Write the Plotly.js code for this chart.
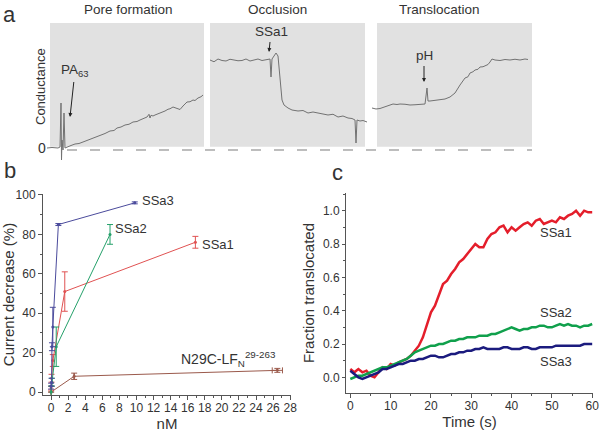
<!DOCTYPE html>
<html><head><meta charset="utf-8">
<script src="https://cdn.plot.ly/plotly-3.0.1.min.js"></script>
<style>html,body{margin:0;padding:0;background:#fff}#plot{width:600px;height:436px}</style>
</head><body><div id="plot"></div>
<script>
// ---------- Panel a: conductance traces (arbitrary time, conductance relative to box height) ----------
const poreT = [7,12,18,20,21,21.5,22,23,24,25,27,31,35,39,43,47,50,55,60,65,70,74,77,81,85,89,93,97,100,104,107,109,110,111,113,115,118,120,123,125,128,130,133,136,140,143,147,150,153,155,158,161,163];
const poreC = [0,0.004,0,0.008,0.36,-0.096,0.064,-0.016,0.28,0,0.008,0.02,0.032,0.036,0.048,0.06,0.072,0.084,0.104,0.116,0.136,0.14,0.16,0.168,0.184,0.19,0.208,0.212,0.224,0.236,0.248,0.27,0.24,0.262,0.256,0.264,0.272,0.28,0.29,0.296,0.31,0.314,0.328,0.322,0.308,0.336,0.368,0.37,0.384,0.38,0.4,0.41,0.424];
const occT = [2,6,10,14,18,22,26,30,34,38,42,46,50,54,58,62,63,64,66,68,70,72,74,76,80,84,90,95,100,105,110,115,120,125,130,135,140,144,147,148,149,152,155,159];
const occC = [0.704,0.69,0.712,0.7,0.696,0.71,0.704,0.698,0.7,0.712,0.696,0.704,0.712,0.7,0.704,0.712,0.568,0.712,0.736,0.76,0.736,0.544,0.384,0.344,0.32,0.304,0.296,0.3,0.28,0.288,0.28,0.272,0.264,0.27,0.248,0.256,0.24,0.236,0.224,0.04,0.224,0.216,0.22,0.208];
const transT = [2,6,10,15,20,23,27,30,35,40,45,50,55,57,58,60,65,70,75,80,85,90,95,98,100,103,105,108,110,113,115,118,120,122,125,130,135,140,145,150,155,158];
const transC = [0.32,0.312,0.316,0.33,0.344,0.352,0.348,0.352,0.35,0.344,0.346,0.348,0.352,0.48,0.376,0.376,0.38,0.384,0.392,0.408,0.44,0.504,0.56,0.57,0.6,0.61,0.624,0.63,0.648,0.65,0.656,0.668,0.688,0.712,0.704,0.7,0.708,0.704,0.71,0.704,0.712,0.708];

// ---------- Panel b: current decrease vs concentration ----------
const ssa3X = [0,0.05,0.1,0.2,0.85,9.8];
const ssa3Y = [3,5,23,33,85,96];
const ssa3E = [1.5,2,2,10,0.5,0.5];
const ssa2X = [0,0.1,0.6,6.9];
const ssa2Y = [0,5,23,80];
const ssa2E = [3,2,10,5];
const ssa1X = [0,0.05,0.2,1.6,16.9];
const ssa1Y = [2,7,16,51,76];
const ssa1E = [1,2,3,10,3];
const lfnX = [0,2.7,26.5];
const lfnY = [0,8,11];
const lfnE = [0,1.6,1];
const lfnXE = [0,0,0.6];

// ---------- Panel c: fraction translocated vs time ----------
const timeS = [];
for (let i = 0; i <= 60; i++) timeS.push(i);
const fracSSa1 = [0.05,0.03,0.05,0.03,0.04,0.01,0.00,0.03,0.06,0.05,0.08,0.07,0.09,0.10,0.11,0.13,0.16,0.19,0.24,0.31,0.39,0.43,0.50,0.56,0.58,0.62,0.65,0.69,0.71,0.74,0.77,0.80,0.78,0.78,0.83,0.86,0.87,0.90,0.91,0.87,0.90,0.88,0.90,0.92,0.93,0.91,0.94,0.95,0.92,0.93,0.94,0.93,0.96,0.95,0.97,0.98,1.00,0.97,1.00,0.99,0.99];
const fracSSa2 = [-0.01,0.00,0.01,0.01,0.02,0.03,0.04,0.05,0.06,0.06,0.07,0.08,0.09,0.10,0.11,0.13,0.15,0.16,0.17,0.18,0.19,0.19,0.20,0.20,0.21,0.22,0.22,0.23,0.23,0.24,0.24,0.24,0.25,0.25,0.25,0.26,0.26,0.27,0.28,0.29,0.30,0.29,0.28,0.29,0.29,0.30,0.30,0.31,0.31,0.30,0.30,0.31,0.32,0.31,0.32,0.31,0.31,0.30,0.31,0.31,0.32];
const fracSSa3 = [0.04,0.02,0.00,-0.01,0.00,0.01,0.02,0.03,0.05,0.05,0.06,0.07,0.08,0.08,0.09,0.10,0.10,0.11,0.11,0.12,0.13,0.13,0.12,0.12,0.13,0.14,0.14,0.15,0.15,0.16,0.16,0.17,0.17,0.18,0.17,0.17,0.17,0.17,0.18,0.18,0.17,0.17,0.17,0.18,0.18,0.17,0.17,0.18,0.18,0.18,0.18,0.19,0.19,0.19,0.19,0.19,0.19,0.19,0.20,0.20,0.20];

const FONT = 'Arial, "Liberation Sans", sans-serif';
const TXT = '#333333';
const W = 600, H = 436;
const px = v => v / W, py = v => 1 - v / H;

const traceGray = {mode:'lines', line:{color:'#727272', width:1}, hoverinfo:'skip', showlegend:false};
const data = [
  Object.assign({x:poreT, y:poreC, xaxis:'x', yaxis:'y'}, traceGray),
  Object.assign({x:occT, y:occC, xaxis:'x2', yaxis:'y2'}, traceGray),
  Object.assign({x:transT, y:transC, xaxis:'x3', yaxis:'y3'}, traceGray),
];
function bSeries(x, y, e, color, xe) {
  const t = {x, y, xaxis:'x4', yaxis:'y4', mode:'lines+markers', showlegend:false,
    line:{color, width:1}, marker:{color, size:3},
    error_y:{type:'data', array:e, color, thickness:1, width:3}};
  if (xe) t.error_x = {type:'data', array:xe, color, thickness:1, width:3};
  return t;
}
data.push(bSeries(lfnX, lfnY, lfnE, '#9b5a4c', lfnXE));
data.push(bSeries(ssa1X, ssa1Y, ssa1E, '#e05252'));
data.push(bSeries(ssa2X, ssa2Y, ssa2E, '#25a06a'));
data.push(bSeries(ssa3X, ssa3Y, ssa3E, '#4b4b9c'));
data.push({x:timeS, y:fracSSa1, xaxis:'x5', yaxis:'y5', mode:'lines', line:{color:'#e41e2b', width:2.5}, showlegend:false});
data.push({x:timeS, y:fracSSa2, xaxis:'x5', yaxis:'y5', mode:'lines', line:{color:'#10a04c', width:2.5}, showlegend:false});
data.push({x:timeS, y:fracSSa3, xaxis:'x5', yaxis:'y5', mode:'lines', line:{color:'#1b1b7e', width:2.5}, showlegend:false});

const aY = [py(165), py(20)];
const aYr = [-0.136, 1.024];
const hidden = {visible:false, fixedrange:true};
const axisStyle = {showline:true, linecolor:'#555', linewidth:1, ticks:'outside', ticklen:4, tickcolor:'#555',
  showgrid:false, zeroline:false, tickfont:{family:FONT, size:12, color:TXT}, mirror:false};
const minorStyle = {ticklen:2, tickcolor:'#555', ticks:'outside'};

function pa(text, x, y, size, extra) {
  return Object.assign({text, x:px(x), y:py(y), xref:'paper', yref:'paper', xanchor:'center', yanchor:'middle',
    showarrow:false, font:{size, color:TXT}}, extra || {});
}
function arrowAnn(text, xref, yref, x, y, ax, ay) {
  return {text, xref, yref, x, y, ax, ay, showarrow:true, arrowhead:2, arrowsize:0.8, arrowwidth:1,
    arrowcolor:'#222', standoff:0, startstandoff:1, font:{size:13.5, color:TXT}};
}
function lbl(text, xref, yref, x, y, size) {
  return {text, xref, yref, x, y, xanchor:'left', yanchor:'middle', showarrow:false, font:{size:size || 13, color:TXT}};
}

const layout = {
  width:W, height:H, margin:{l:0,r:0,t:0,b:0}, paper_bgcolor:'#fff', plot_bgcolor:'rgba(0,0,0,0)',
  font:{family:FONT, color:TXT},
  xaxis: Object.assign({domain:[px(40), px(206)], range:[0,166]}, hidden),
  yaxis: Object.assign({domain:aY, range:aYr}, hidden),
  xaxis2: Object.assign({domain:[px(208), px(368)], range:[0,160], anchor:'y2'}, hidden),
  yaxis2: Object.assign({domain:aY, range:aYr, anchor:'x2'}, hidden),
  xaxis3: Object.assign({domain:[px(370), px(534)], range:[0,164], anchor:'y3'}, hidden),
  yaxis3: Object.assign({domain:aY, range:aYr, anchor:'x3'}, hidden),
  xaxis4: Object.assign({}, axisStyle, {domain:[px(43), px(291)], range:[-0.95, 28.1], anchor:'y4',
    dtick:2, tick0:0, minor:Object.assign({dtick:1}, minorStyle), ticklabelstandoff:-2,
    title:{text:'nM', font:{family:FONT, size:15, color:TXT}, standoff:2}}),
  yaxis4: Object.assign({}, axisStyle, {domain:[py(395), py(194)], range:[-1.5, 100.5], anchor:'x4',
    dtick:20, tick0:0, minor:Object.assign({dtick:10}, minorStyle),
    title:{text:'Current decrease (%)', font:{family:FONT, size:15, color:TXT}, standoff:6}}),
  xaxis5: Object.assign({}, axisStyle, {domain:[px(346), px(593)], range:[-1.07, 60.2], anchor:'y5',
    dtick:10, tick0:0, minor:Object.assign({dtick:5}, minorStyle), ticklabelstandoff:-2,
    title:{text:'Time (s)', font:{family:FONT, size:15, color:TXT}, standoff:2}}),
  yaxis5: Object.assign({}, axisStyle, {domain:[py(393), py(193)], range:[-0.094, 1.106], anchor:'x5',
    dtick:0.2, tick0:0, tickformat:'.1f', ticklen:3, minor:Object.assign({dtick:0.1}, minorStyle),
    title:{text:'Fraction translocated', font:{family:FONT, size:15, color:TXT}, standoff:4}}),
  shapes: [
    {type:'rect', xref:'x', yref:'y', x0:10, x1:164, y0:0.01, y1:1.0, fillcolor:'#e1e1e1', line:{width:0}, layer:'below'},
    {type:'rect', xref:'x2', yref:'y2', x0:2, x1:157, y0:0.01, y1:1.0, fillcolor:'#e1e1e1', line:{width:0}, layer:'below'},
    {type:'rect', xref:'x3', yref:'y3', x0:7, x1:162, y0:0.01, y1:1.0, fillcolor:'#e1e1e1', line:{width:0}, layer:'below'},
    {type:'line', xref:'paper', yref:'paper', x0:px(67), x1:px(532), y0:py(150), y1:py(150),
      line:{color:'#bdbdbd', width:2, dash:'10px,13px'}, layer:'below'},
  ],
  annotations: [
    pa('a', 9, 15, 22),
    pa('b', 10, 171, 22),
    pa('c', 337, 172, 22),
    pa('Pore formation', 128, 10, 13.5),
    pa('Occlusion', 277, 10, 13.5),
    pa('Translocation', 439, 10, 13.5),
    pa('Conductance', 41, 87, 13, {textangle:-90}),
    pa('0', 42, 148, 14),
    arrowAnn('PA<sub>63</sub>', 'x', 'y', 30, 0.248, 5, -46),
    arrowAnn('SSa1', 'x2', 'y2', 61, 0.768, 2, -20),
    arrowAnn('pH', 'x3', 'y3', 54, 0.528, 0, -26),
    lbl('SSa3', 'x4', 'y4', 10.4, 97),
    lbl('SSa2', 'x4', 'y4', 7.3, 83),
    lbl('SSa1', 'x4', 'y4', 17.4, 75),
    lbl('N29C-LF<sub>N</sub><sup>29-263</sup>', 'x4', 'y4', 15.0, 17, 14),
    lbl('SSa1', 'x5', 'y5', 46.6, 0.866),
    lbl('SSa2', 'x5', 'y5', 46.6, 0.39),
    lbl('SSa3', 'x5', 'y5', 46.6, 0.094),
  ]
};
Plotly.newPlot('plot', data, layout, {staticPlot:true, displayModeBar:false});
</script></body></html>
